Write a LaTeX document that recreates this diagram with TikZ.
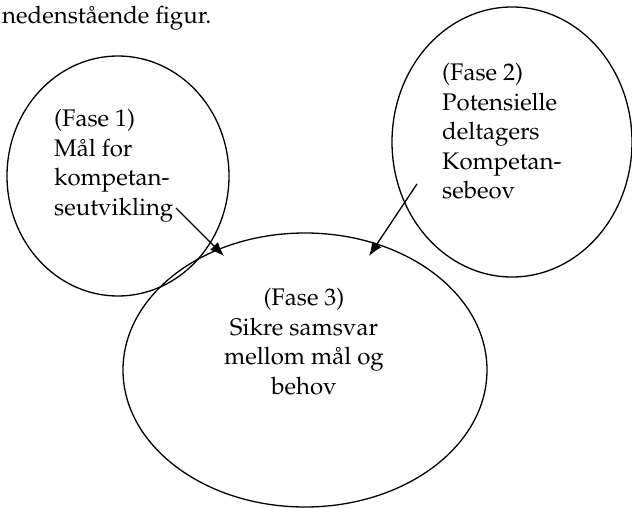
\documentclass[tikz,border=0pt]{standalone}
\usepackage[T1]{fontenc}
\usepackage{mathpazo}
\usetikzlibrary{shapes.geometric,arrows.meta}

\begin{document}
\begin{tikzpicture}[x=1pt,y=-1pt]
 \tikzstyle{fase}=[ellipse, draw, line width=1.3pt, inner sep=0pt]
 \tikzstyle{tekst}=[inner sep=0pt, align=left, font=\fontsize{24}{29.5}\selectfont]
 \tikzstyle{pil}=[-{Latex[length=14pt,width=11pt]}, line width=1.3pt]
 \useasboundingbox (0,0) rectangle (632,508);
 %
 \node[tekst, anchor=base west] (overskrift) at (2,24) {nedenst\aa ende figur.};
 %
 \node[fase, minimum width=222pt, minimum height=240pt] (F1) at (118,176) {};
 \node[fase, minimum width=240pt, minimum height=270pt] (F2) at (512,142) {};
 \node[fase, minimum width=364pt, minimum height=274pt] (F3) at (305,370) {};
 %
 \node[tekst, anchor=north west] (T1) at (54,109) {(Fase 1)\\M\aa l for\\kompetan-\\seutvikling};
 \node[tekst, anchor=north west] (T2) at (442,63) {(Fase 2)\\Potensielle\\deltagers\\Kompetan-\\sebeov};
 \node[tekst, anchor=north, align=center] (T3) at (304,288) {(Fase 3)\\Sikre samsvar\\mellom m\aa l og\\behov};
 %
 \coordinate (P1a) at (176,208);
 \coordinate (P1b) at (224,256);
 \coordinate (P2a) at (417,184);
 \coordinate (P2b) at (369,256);
 %%
 \draw[pil] (P1a)--(P1b);
 \draw[pil] (P2a)--(P2b);
\end{tikzpicture}
\end{document}
